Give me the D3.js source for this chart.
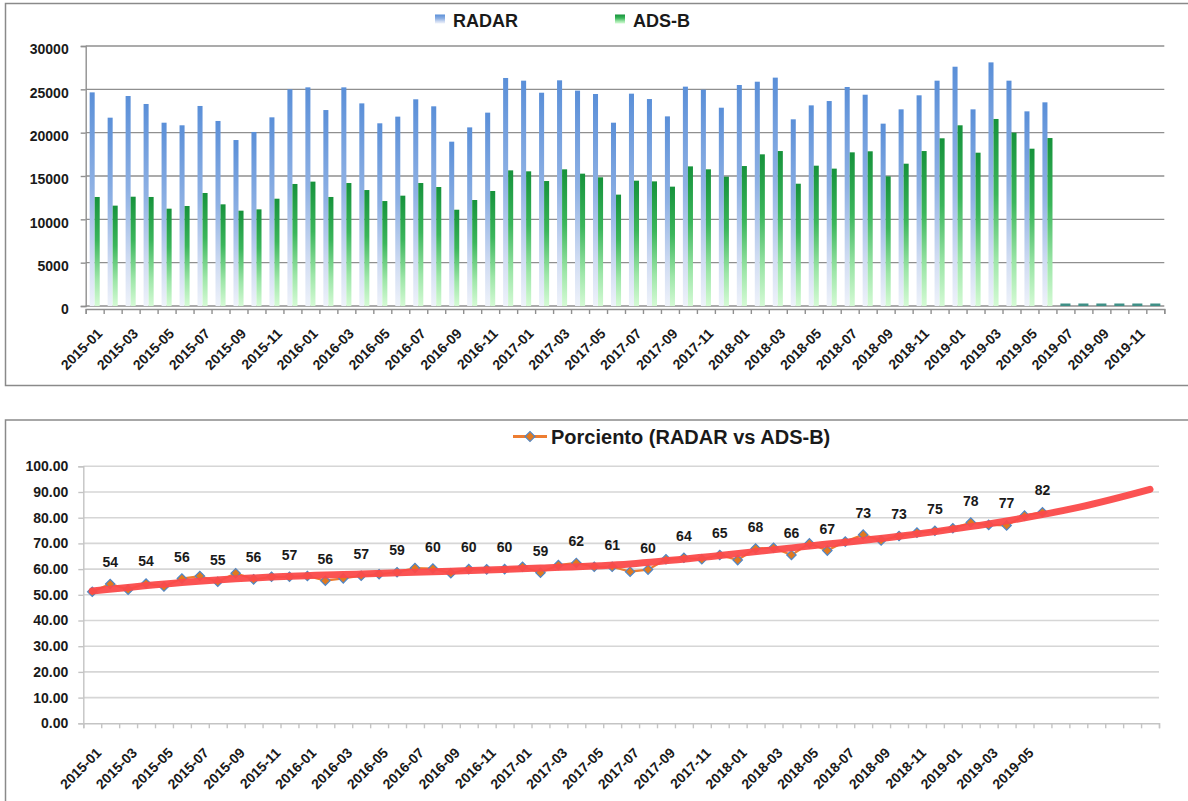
<!DOCTYPE html>
<html>
<head>
<meta charset="utf-8">
<script src="https://cdn.jsdelivr.net/npm/d3@7"></script>
<style>
  body { margin: 0; background: #fff; }
  svg { display: block; font-family: "Liberation Sans", Arial, sans-serif; }
  .frame { fill: none; stroke: #8a8a8a; stroke-width: 1.5; }
  .lbl { fill: #1a1a1a; font-weight: bold; font-size: 14px; }
</style>
</head>
<body>
<svg width="1188" height="801"></svg>
<script>
let months = [
  "2015-01","2015-02","2015-03","2015-04","2015-05","2015-06","2015-07","2015-08","2015-09","2015-10","2015-11","2015-12",
  "2016-01","2016-02","2016-03","2016-04","2016-05","2016-06","2016-07","2016-08","2016-09","2016-10","2016-11","2016-12",
  "2017-01","2017-02","2017-03","2017-04","2017-05","2017-06","2017-07","2017-08","2017-09","2017-10","2017-11","2017-12",
  "2018-01","2018-02","2018-03","2018-04","2018-05","2018-06","2018-07","2018-08","2018-09","2018-10","2018-11","2018-12",
  "2019-01","2019-02","2019-03","2019-04","2019-05","2019-06","2019-07","2019-08","2019-09","2019-10","2019-11","2019-12"
];

let radarValues = [
  24650, 21730, 24230, 23310, 21150, 20850, 23080, 21350, 19150, 20080, 21770, 25000,
  25230, 22610, 25230, 23380, 21080, 21850, 23850, 23040, 18960, 20610, 22310, 26310,
  26000, 24610, 26040, 24850, 24460, 21150, 24500, 23880, 21880, 25310, 24960, 22880,
  25500, 25880, 26350, 21540, 23150, 23650, 25270, 24380, 21040, 22690, 24310, 26000,
  27610, 22690, 28110, 26000, 22460, 23500, 0, 0, 0, 0, 0, 0
];

let adsbValues = [
  12580, 11580, 12610, 12580, 11230, 11540, 13040, 11730, 11000, 11150, 12380, 14080,
  14350, 12580, 14190, 13380, 12110, 12730, 14190, 13730, 11110, 12230, 13270, 15650,
  15540, 14420, 15770, 15270, 14850, 12850, 14460, 14380, 13770, 16110, 15770, 14920,
  16150, 17500, 17880, 14110, 16190, 15850, 17730, 17850, 14960, 16420, 17880, 19350,
  20850, 17690, 21580, 20000, 18150, 19380, 0, 0, 0, 0, 0, 0
];

let percentValues = [
  51.2, 54.2, 52.0, 54.4, 53.2, 56.3, 57.3, 55.1, 58.4, 56.0, 57.0, 57.0,
  57.3, 55.5, 56.4, 57.4, 58.0, 58.8, 60.4, 60.2, 58.4, 60.0, 59.9, 60.0,
  60.9, 58.6, 61.6, 62.4, 60.9, 60.9, 59.0, 59.8, 63.8, 64.4, 63.8, 65.5,
  63.5, 68.0, 68.3, 65.5, 70.0, 67.2, 70.7, 73.4, 71.1, 72.9, 74.2, 74.9,
  75.9, 78.1, 77.2, 77.0, 80.8, 82.1
];

// labels shown on every second point (2015-02, 2015-04, ...)
let percentLabels = [54, 54, 56, 55, 56, 57, 56, 57, 59, 60, 60, 60, 59, 62, 61, 60, 64, 65, 68, 66, 67, 73, 73, 75, 78, 77, 82];

let trendIndex = [0, 5, 10, 15, 20, 25, 30, 35, 40, 45, 50, 55, 59];
let trendValues = [51.5, 54.8, 56.9, 58.1, 59.2, 60.4, 62.0, 65.3, 69.0, 72.8, 77.6, 84.0, 91.0];

let topTicks = [0, 5000, 10000, 15000, 20000, 25000, 30000];
let bottomTicks = [0, 10, 20, 30, 40, 50, 60, 70, 80, 90, 100];

let svg = d3.select("svg");
let defs = svg.append("defs");

function addGradient(id, stops) {
  let g = defs.append("linearGradient")
    .attr("id", id)
    .attr("x1", 0).attr("y1", 0).attr("x2", 0).attr("y2", 1);
  stops.forEach(s => g.append("stop").attr("offset", s[0]).attr("stop-color", s[1]));
}
addGradient("gradRadar", [[0, "#5a8fd8"], [0.45, "#8fb1e4"], [0.8, "#d3def3"], [1, "#eef2fa"]]);
addGradient("gradAdsb", [[0, "#16923b"], [0.4, "#3bb65b"], [0.75, "#9de6a8"], [1, "#d4fad4"]]);

renderTop();
renderBottom();

function renderTop() {
  let g = svg.append("g").attr("class", "top");
  g.append("rect").attr("class", "frame")
    .attr("x", 5.5).attr("y", 3.5).attr("width", 1190).attr("height", 382);

  let left = 85.7, right = 1164.3, yTop = 46, yBase = 306;
  let yScale = d3.scaleLinear().domain([0, 30000]).range([yBase, yTop]);
  let x0 = d3.scaleBand().domain(months).range([left, right])
    .paddingInner(0.44).paddingOuter(0.22);
  let x1 = d3.scaleBand().domain(["RADAR", "ADS-B"]).range([0, x0.bandwidth()]);
  let idx = d3.scaleLinear().domain([0, months.length]).range([left, right]);

  // gridlines
  g.append("g").selectAll("line")
    .data(topTicks)
    .enter().append("line")
    .attr("x1", left).attr("x2", right)
    .attr("y1", d => yScale(d)).attr("y2", d => yScale(d))
    .attr("stroke", "#8f8f8f").attr("stroke-width", 1.4);

  // y axis
  let gy = g.append("g")
    .attr("transform", `translate(${left}, 0)`)
    .call(d3.axisLeft(yScale).tickValues(topTicks).tickSize(5).tickPadding(12).tickFormat(d3.format("d")));
  gy.select(".domain").attr("stroke", "#8f8f8f").attr("stroke-width", 1.4);
  gy.selectAll(".tick line").attr("stroke", "#8f8f8f").attr("stroke-width", 1.4);
  gy.selectAll(".tick text").attr("class", "lbl").attr("dy", "0.55em");

  // bars
  let rows = months.map((m, i) => ({ m: m, radar: radarValues[i], adsb: adsbValues[i] }));
  let groups = g.append("g").selectAll("g")
    .data(rows)
    .enter().append("g")
    .attr("transform", d => `translate(${x0(d.m)}, 0)`);

  groups.filter(d => d.radar > 0).append("rect")
    .attr("x", x1("RADAR"))
    .attr("width", x1.bandwidth())
    .attr("y", d => yScale(d.radar))
    .attr("height", d => yBase - yScale(d.radar))
    .attr("fill", "url(#gradRadar)");
  groups.filter(d => d.adsb > 0).append("rect")
    .attr("x", x1("ADS-B"))
    .attr("width", x1.bandwidth())
    .attr("y", d => yScale(d.adsb))
    .attr("height", d => yBase - yScale(d.adsb))
    .attr("fill", "url(#gradAdsb)");
  // zero-valued months show as a thin mark on the baseline
  groups.filter(d => d.radar === 0 && d.adsb === 0).append("rect")
    .attr("x", 0)
    .attr("width", x0.bandwidth())
    .attr("y", yBase - 2.5)
    .attr("height", 2.5)
    .attr("fill", "#3f8f86");

  // x axis with boundary ticks
  let gx = g.append("g")
    .attr("transform", `translate(0, ${yBase + 3})`)
    .call(d3.axisBottom(idx).tickValues(d3.range(months.length + 1)).tickSize(5).tickFormat(""));
  gx.select(".domain").attr("stroke", "#8f8f8f").attr("stroke-width", 1.4);
  gx.selectAll(".tick line").attr("stroke", "#8f8f8f").attr("stroke-width", 1.4);

  g.append("g").selectAll("text")
    .data(months.filter((_, i) => i % 2 === 0))
    .enter().append("text")
    .attr("class", "lbl")
    .attr("transform", d => `translate(${x0(d) + x0.bandwidth() / 2 + 5}, ${yBase + 25}) rotate(-45)`)
    .attr("text-anchor", "end")
    .attr("dy", "0.35em")
    .text(d => d);

  // legend
  let legend = [
    { name: "RADAR", fill: "url(#gradRadar)", x: 435 },
    { name: "ADS-B", fill: "url(#gradAdsb)", x: 615 }
  ];
  let gl = g.append("g").selectAll("g")
    .data(legend)
    .enter().append("g")
    .attr("transform", d => `translate(${d.x}, 0)`);
  gl.append("rect").attr("x", 0).attr("y", 14.5).attr("width", 10).attr("height", 9).attr("fill", d => d.fill);
  gl.append("text")
    .attr("x", 18).attr("y", 26.5)
    .attr("font-size", 18).attr("font-weight", "bold").attr("fill", "#1a1a1a")
    .text(d => d.name);
}

function renderBottom() {
  let g = svg.append("g").attr("class", "bottom");
  g.append("rect").attr("class", "frame")
    .attr("x", 5.5).attr("y", 420).attr("width", 1190).attr("height", 400);

  let left = 83.3, right = 1159, yTop = 466.3, yBase = 723.3;
  let yScale = d3.scaleLinear().domain([0, 100]).range([yBase, yTop]);
  let xScale = d3.scaleBand().domain(months).range([left, right]);
  let idx = d3.scaleLinear().domain([0, months.length]).range([left, right]);
  let cx = i => xScale(months[i]) + xScale.bandwidth() / 2;

  g.append("g").selectAll("line")
    .data(bottomTicks.slice(1))
    .enter().append("line")
    .attr("x1", left).attr("x2", right)
    .attr("y1", d => yScale(d)).attr("y2", d => yScale(d))
    .attr("stroke", "#d6d6d6").attr("stroke-width", 1.6);

  let gy = g.append("g")
    .attr("transform", `translate(${left}, 0)`)
    .call(d3.axisLeft(yScale).tickValues(bottomTicks).tickSize(5).tickPadding(10).tickFormat(d3.format(".2f")));
  gy.select(".domain").attr("stroke", "#c4c4c4").attr("stroke-width", 1.4);
  gy.selectAll(".tick line").attr("stroke", "#c4c4c4").attr("stroke-width", 1.4);
  gy.selectAll(".tick text").attr("class", "lbl");

  let gx = g.append("g")
    .attr("transform", `translate(0, ${yBase})`)
    .call(d3.axisBottom(idx).tickValues(d3.range(months.length + 1)).tickSize(5).tickFormat(""));
  gx.select(".domain").attr("stroke", "#c4c4c4").attr("stroke-width", 1.4);
  gx.selectAll(".tick line").attr("stroke", "#c4c4c4").attr("stroke-width", 1.4);

  g.append("g").selectAll("text")
    .data(months.filter((_, i) => i % 2 === 0 && i < percentValues.length))
    .enter().append("text")
    .attr("class", "lbl")
    .attr("transform", d => `translate(${xScale(d) + xScale.bandwidth() / 2 + 6.5}, ${yBase + 27}) rotate(-45)`)
    .attr("text-anchor", "end")
    .attr("dy", "0.35em")
    .text(d => d);

  // series line + markers
  let line = d3.line().x((_, i) => cx(i)).y(d => yScale(d));
  g.append("path")
    .datum(percentValues)
    .attr("d", line)
    .attr("fill", "none")
    .attr("stroke", "#ed7d31")
    .attr("stroke-width", 2.2);

  let diamond = d3.symbol().type(d3.symbolSquare).size(44);
  g.append("g").selectAll("path")
    .data(percentValues)
    .enter().append("path")
    .attr("d", diamond)
    .attr("transform", (d, i) => `translate(${cx(i)}, ${yScale(d)}) rotate(45)`)
    .attr("fill", "#e0791f")
    .attr("stroke", "#4f86c6")
    .attr("stroke-width", 1.2);

  // trend line on top
  let trend = d3.line()
    .x((_, i) => cx(trendIndex[i]))
    .y(d => yScale(d))
    .curve(d3.curveCatmullRom);
  g.append("path")
    .datum(trendValues)
    .attr("d", trend)
    .attr("fill", "none")
    .attr("stroke", "#fb4a4a")
    .attr("stroke-opacity", 0.95)
    .attr("stroke-width", 7)
    .attr("stroke-linecap", "round");

  // data labels
  g.append("g").selectAll("text")
    .data(percentLabels)
    .enter().append("text")
    .attr("class", "lbl")
    .attr("x", (_, k) => cx(2 * k + 1))
    .attr("y", (_, k) => yScale(percentValues[2 * k + 1]) - 22)
    .attr("text-anchor", "middle")
    .attr("dominant-baseline", "central")
    .text(d => d);

  // legend
  let lg = g.append("g").attr("transform", "translate(530, 436.5)");
  lg.append("line").attr("x1", -17).attr("x2", 17).attr("y1", 0).attr("y2", 0)
    .attr("stroke", "#ed7d31").attr("stroke-width", 3);
  lg.append("path").attr("d", d3.symbol().type(d3.symbolSquare).size(50)())
    .attr("transform", "rotate(45)")
    .attr("fill", "#e0791f").attr("stroke", "#4f86c6").attr("stroke-width", 1.2);
  lg.append("text")
    .attr("x", 21).attr("y", 7)
    .attr("font-size", 20).attr("font-weight", "bold").attr("fill", "#1a1a1a")
    .text("Porciento (RADAR vs ADS-B)");
}
</script>
</body>
</html>
